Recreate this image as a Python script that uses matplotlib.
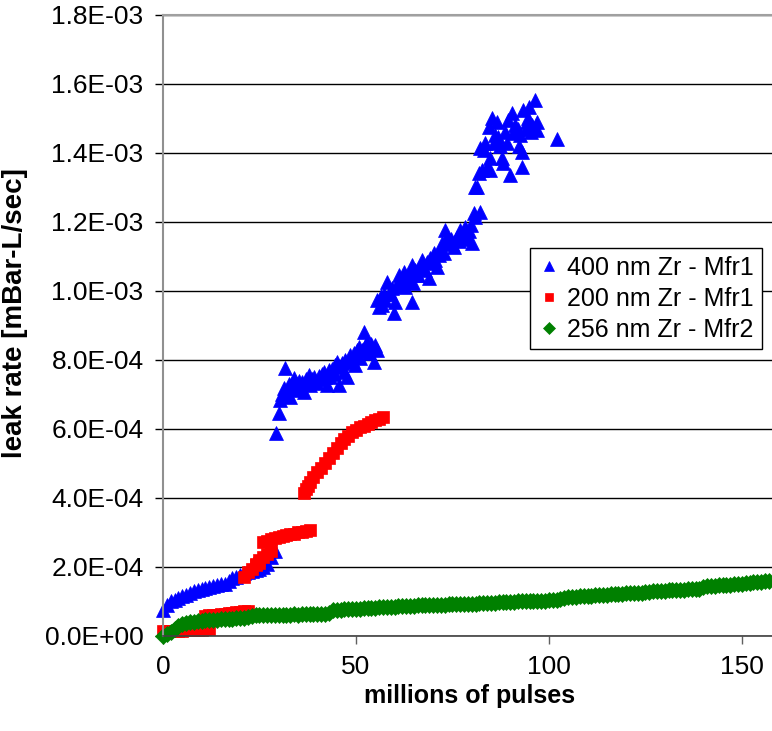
#!/usr/bin/env python3
"""Leak rate vs. millions of pulses for three Zr filter samples"""

import matplotlib.pyplot as plt
from matplotlib.ticker import FuncFormatter, MultipleLocator

plt.rcParams['font.family'] = ['Liberation Sans', 'DejaVu Sans']

# leak rate values are stored in units of 1e-4 mBar-L/sec
UNIT = 1e-4

# 400 nm Zr - Mfr1 (blue triangles)
zr400_x = [
    0, 1, 2, 3, 4, 5, 6, 7, 8, 9, 10, 11, 12, 13, 14, 15, 16, 17, 18, 19,
    20, 21, 22, 23, 24, 25, 26, 27, 28, 29,
    29.3, 30.0, 30.4, 30.8, 31.3, 31.7, 32.2, 32.6, 33.0, 33.5, 33.9, 34.3,
    34.8, 35.2, 35.6, 36.0, 36.5, 37.0, 37.4, 37.8, 38.2, 38.7, 39.1, 39.5,
    39.9, 40.3, 40.8, 41.2, 41.6, 42.0, 42.6, 43.0, 43.4, 43.9, 44.3, 44.7,
    45.1, 45.5, 45.9, 46.4, 46.8, 47.2, 47.7, 48.1, 48.5, 49.0, 49.4, 49.8,
    50.2, 50.7, 51.1, 51.5, 52.0, 52.4, 52.9, 53.3, 53.8, 54.2, 54.6, 55.0,
    55.4,
    55.5, 55.9, 56.4, 56.8, 57.2, 57.6, 58.0, 58.5, 58.9, 59.3, 59.8, 60.2,
    60.6, 61.1, 61.5, 62.0, 62.4, 62.8, 63.2, 63.7, 64.1, 64.5, 64.5, 64.9,
    65.4, 65.8, 66.2, 66.7, 67.1, 67.5, 68.0, 68.4, 68.8, 69.3, 69.7, 70.1,
    70.5, 71.0, 71.4, 71.9, 72.3, 72.7, 73.2, 73.6, 74.0, 74.5, 74.9, 75.3,
    75.8, 76.2, 76.6, 77.0, 77.5, 77.9, 78.3, 78.8, 79.2, 79.7, 80.1, 80.5,
    80.9, 82.2,
    80.9, 81.4, 81.8, 82.2, 82.7, 83.1, 83.5, 84.0, 84.4, 84.8, 84.8, 85.2,
    85.7, 86.1, 86.5, 86.8, 87.3, 87.8, 88.2, 88.6, 89.1, 89.5, 90.0, 90.4,
    90.8, 91.3, 91.9, 92.3, 92.6, 93.0, 93.0, 93.4, 94.0, 94.3, 94.7, 94.8,
    95.3, 95.7, 96.2, 96.5, 96.9, 97.0, 102.1,
]
zr400_y = [
    0.75, 0.90, 1.00, 1.05, 1.10, 1.15, 1.20, 1.25, 1.30, 1.33, 1.36, 1.39,
    1.42, 1.45, 1.47, 1.50, 1.52, 1.60, 1.68, 1.72, 1.78, 1.82, 1.86, 1.88,
    1.90, 1.95, 2.00, 2.10, 2.30, 2.45,
    5.88, 6.45, 6.84, 7.00, 7.18, 7.76, 7.03, 7.30, 6.94, 7.20, 7.47, 7.13,
    7.30, 7.40, 7.23, 7.35, 7.08, 7.45, 7.30, 7.57, 7.28, 7.45, 7.50, 7.35,
    7.33, 7.55, 7.45, 7.60, 7.66, 7.50, 7.28, 7.70, 7.52, 7.75, 7.60, 7.85,
    7.95, 7.28, 7.80, 7.90, 7.66, 8.00, 7.52, 7.95, 8.14, 8.00, 8.20, 7.86,
    8.30, 8.39, 8.06, 8.30, 8.82, 8.40, 8.53, 8.20, 8.45, 8.35, 7.95, 8.43,
    8.30,
    9.74, 9.54, 9.85, 9.60, 9.90, 9.75, 10.27, 9.90, 9.93, 10.10, 9.35, 9.69,
    10.20, 10.46, 10.15, 10.30, 10.56, 10.12, 10.40, 10.50, 10.30, 9.69, 10.75,
    10.22, 10.60, 10.45, 10.46, 10.70, 10.90, 10.65, 10.60, 10.85, 10.37,
    10.95, 10.80, 11.09, 10.90, 10.70, 11.05, 11.19, 11.38, 11.10, 11.77,
    11.57, 11.40, 11.50, 11.35, 11.28, 11.50, 11.57, 11.45, 11.77, 11.60,
    11.70, 11.86, 11.52, 11.75, 11.90, 11.38, 12.25, 12.15, 12.30,
    13.00, 13.02, 13.41, 14.14, 13.51, 14.09, 14.30, 13.60, 14.76, 13.51,
    13.85, 15.00, 14.30, 14.52, 14.90, 14.45, 14.20, 13.85, 13.70, 14.60,
    14.30, 14.96, 13.36, 15.15, 14.57, 14.80, 14.70, 14.20, 14.52, 14.04,
    13.60, 15.25, 14.70, 14.90, 15.00, 15.34, 14.60, 14.80, 14.70, 15.54,
    14.67, 14.90, 14.40,
]

# 200 nm Zr - Mfr1 (red squares)
zr200_x = [
    0, 1, 2, 3, 4, 5, 6, 7, 8, 9, 10, 11, 12,
    11, 12, 13, 14, 15, 16, 17, 18, 19, 20, 21, 22,
    21, 22, 23, 24, 25, 24, 25, 26, 27, 28,
    26, 27, 28, 29, 30, 31, 32, 33, 34, 35, 36, 37, 38,
    36.5, 37, 37.5, 38, 39, 40, 41, 42, 43, 44, 45, 46, 47, 48, 49, 50, 51,
    52, 53, 54, 55, 56, 57,
]
zr200_y = [
    0.13, 0.13, 0.14, 0.14, 0.15, 0.15, 0.16, 0.16, 0.17, 0.17, 0.18, 0.19,
    0.19,
    0.58, 0.60, 0.61, 0.62, 0.64, 0.65, 0.66, 0.68, 0.69, 0.70, 0.72, 0.73,
    1.72, 1.85, 1.95, 2.05, 2.12, 2.10, 2.20, 2.30, 2.38, 2.45,
    2.72, 2.76, 2.80, 2.83, 2.86, 2.89, 2.92, 2.95, 2.97, 3.00, 3.02, 3.05,
    3.07,
    4.15, 4.25, 4.35, 4.45, 4.60, 4.74, 4.88, 5.02, 5.16, 5.30, 5.45, 5.58,
    5.70, 5.80, 5.90, 5.98, 6.05, 6.10, 6.15, 6.20, 6.25, 6.30, 6.36,
]

# 256 nm Zr - Mfr2 (green diamonds)
zr256_x = [
    0, 1, 2, 3, 4, 5, 6, 7, 8, 9,
    10, 11, 12, 13, 14, 15, 16, 17, 18, 19,
    20, 21, 22, 23, 24, 25, 26, 27, 28, 29,
    30, 31, 32, 33, 34, 35, 36, 37, 38, 39,
    40, 41, 42, 43, 44, 45, 46, 47, 48, 49,
    50, 51, 52, 53, 54, 55, 56, 57, 58, 59,
    60, 61, 62, 63, 64, 65, 66, 67, 68, 69,
    70, 71, 72, 73, 74, 75, 76, 77, 78, 79,
    80, 81, 82, 83, 84, 85, 86, 87, 88, 89,
    90, 91, 92, 93, 94, 95, 96, 97, 98, 99,
    100, 101, 102, 103, 104, 105, 106, 107, 108, 109,
    110, 111, 112, 113, 114, 115, 116, 117, 118, 119,
    120, 121, 122, 123, 124, 125, 126, 127, 128, 129,
    130, 131, 132, 133, 134, 135, 136, 137, 138, 139,
    140, 141, 142, 143, 144, 145, 146, 147, 148, 149,
    150, 151, 152, 153, 154, 155, 156, 157,
]
zr256_y = [
    0.00, 0.05, 0.12, 0.20, 0.28, 0.35, 0.38, 0.40, 0.41, 0.42,
    0.43, 0.45, 0.46, 0.46, 0.47, 0.48, 0.49, 0.49, 0.50, 0.51,
    0.52, 0.53, 0.54, 0.59, 0.60, 0.60, 0.61, 0.61, 0.61, 0.62,
    0.62, 0.62, 0.62, 0.62, 0.63, 0.62, 0.63, 0.63, 0.64, 0.64,
    0.64, 0.65, 0.65, 0.66, 0.74, 0.75, 0.76, 0.77, 0.77, 0.78,
    0.78, 0.79, 0.80, 0.81, 0.81, 0.82, 0.83, 0.83, 0.84, 0.85,
    0.85, 0.86, 0.86, 0.87, 0.88, 0.88, 0.89, 0.89, 0.90, 0.90,
    0.90, 0.91, 0.91, 0.91, 0.92, 0.92, 0.92, 0.93, 0.93, 0.93,
    0.94, 0.94, 0.95, 0.96, 0.96, 0.97, 0.97, 0.98, 0.98, 0.99,
    0.99, 0.99, 1.00, 1.00, 1.00, 1.01, 1.01, 1.01, 1.02, 1.02,
    1.03, 1.04, 1.05, 1.06, 1.11, 1.12, 1.13, 1.14, 1.15, 1.15,
    1.16, 1.17, 1.18, 1.18, 1.19, 1.20, 1.21, 1.22, 1.22, 1.23,
    1.24, 1.25, 1.25, 1.26, 1.26, 1.27, 1.28, 1.29, 1.29, 1.30,
    1.31, 1.32, 1.32, 1.33, 1.34, 1.34, 1.35, 1.36, 1.36, 1.37,
    1.43, 1.44, 1.45, 1.46, 1.47, 1.48, 1.48, 1.49, 1.50, 1.51,
    1.52, 1.53, 1.54, 1.55, 1.55, 1.56, 1.58, 1.60,
]

labels = ["400 nm Zr - Mfr1", "200 nm Zr - Mfr1", "256 nm Zr - Mfr2"]


def main():
    fig = plt.figure(figsize=(7.72, 7.31), dpi=100)
    ax = fig.add_axes([0.2111, 0.1300, 0.7889, 0.8495])

    series = [
        (zr400_x, zr400_y, "^", "#0000ff", 9.5),
        (zr200_x, zr200_y, "s", "#ff0000", 8.5),
        (zr256_x, zr256_y, "D", "#008000", 8.5),
    ]
    for (xs, ys, marker, color, ms), label in zip(series, labels):
        ax.plot(xs, [v * UNIT for v in ys], linestyle="none", marker=marker,
                color=color, markersize=ms, markeredgewidth=0.5,
                markeredgecolor=color, label=label, clip_on=False)

    ax.set_xlim(0, 157.8)
    ax.set_ylim(0, 1.8e-3)
    ax.xaxis.set_major_locator(MultipleLocator(50))
    ax.yaxis.set_major_locator(MultipleLocator(2e-4))
    ax.yaxis.set_major_formatter(FuncFormatter(lambda v, pos: f"{v:.1E}"))

    ax.yaxis.grid(True, color="black", linewidth=1.0)
    ax.set_axisbelow(True)

    ax.spines["right"].set_visible(False)
    ax.spines["top"].set_color("#a0a0a0")
    ax.spines["top"].set_linewidth(1.5)
    ax.spines["left"].set_color("#909090")
    ax.spines["left"].set_linewidth(1.5)
    ax.spines["bottom"].set_color("#404040")
    ax.spines["bottom"].set_linewidth(1.2)

    ax.tick_params(axis="y", direction="out", length=6, width=1,
                   color="black", labelsize=19, pad=8)
    ax.tick_params(axis="x", direction="out", length=6, width=1,
                   color="#606060", labelsize=19, pad=8)

    ax.set_xlabel("millions of pulses", fontsize=18, fontweight="bold")
    ax.set_ylabel("leak rate [mBar-L/sec]", fontsize=20, fontweight="bold")
    ax.xaxis.set_label_coords(0.504, -0.078)
    ax.yaxis.set_label_coords(-0.222, 0.52)

    ax.legend(loc="upper right", bbox_to_anchor=(0.983, 0.624),
              borderaxespad=0, fontsize=18, frameon=True, fancybox=False,
              edgecolor="black", framealpha=1, handlelength=0.9,
              handletextpad=0.3, labelspacing=0.28, borderpad=0.3,
              markerscale=0.75)

    fig.savefig("out.png", dpi=100)


if __name__ == "__main__":
    main()
